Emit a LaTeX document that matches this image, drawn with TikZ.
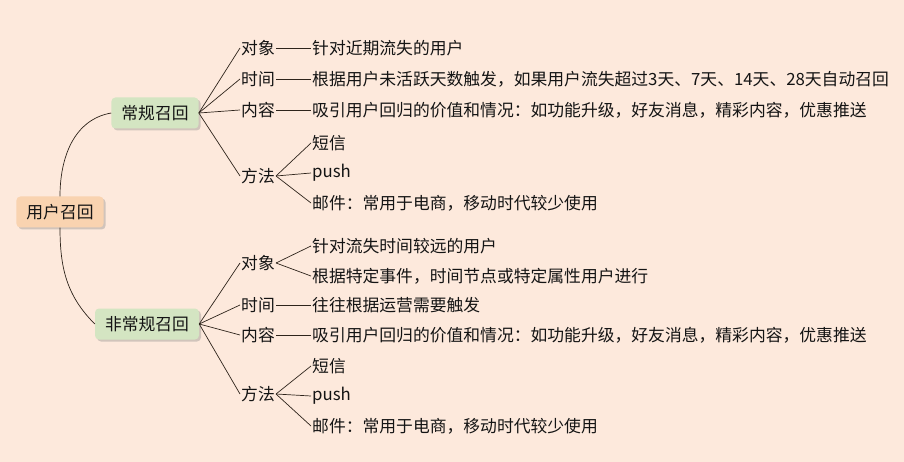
\documentclass[tikz,border=0pt]{standalone}
\usepackage{fontspec}
\setmainfont{Noto Sans CJK SC}
\usetikzlibrary{shadows}
\definecolor{bgpeach}{HTML}{FDE9DC}
\definecolor{rootfill}{HTML}{F9D3B0}
\definecolor{mainfill}{HTML}{D4E5C2}
\definecolor{inkgray}{HTML}{141414}
\tikzset{
  topic/.style={rounded corners=4pt,minimum height=31pt,inner xsep=10pt,
    drop shadow={shadow xshift=2pt,shadow yshift=-2pt,opacity=0.35}},
  rootbox/.style={topic,fill=rootfill},
  mainbox/.style={topic,fill=mainfill},
  leaf/.style={anchor=west,inner sep=1pt},
  link/.style={draw=inkgray!85!brown,line width=0.7pt},
}
\begin{document}
\begin{tikzpicture}[x=1pt,y=-1pt,font=\fontsize{16.8}{20}\selectfont,text=inkgray]
\fill[bgpeach] (0,0) rectangle (904,462);
\useasboundingbox (0,0) rectangle (904,462);

\node[rootbox](root) at (60,212) {用户召回};
\node[mainbox](reg) at (155,113) {常规召回};
\node[mainbox](irr) at (147,324) {非常规召回};

% 常规召回
\node[leaf](r1) at (240,48) {对象};
\node[leaf](r2) at (240,79) {时间};
\node[leaf](r3) at (240,110) {内容};
\node[leaf](r4) at (240,176) {方法};
\node[leaf](r1a) at (311,48) {针对近期流失的用户};
\node[leaf](r2a) at (311,79) {根据用户未活跃天数触发，如果用户流失超过3天、7天、14天、28天自动召回};
\node[leaf](r3a) at (311,110) {吸引用户回归的价值和情况：如功能升级，好友消息，精彩内容，优惠推送};
\node[leaf](r4a) at (311,143) {短信};
\node[leaf](r4b) at (311,173) {push};
\node[leaf](r4c) at (311,203) {邮件：常用于电商，移动时代较少使用};

% 非常规召回
\node[leaf](i1) at (240,263) {对象};
\node[leaf](i2) at (240,305) {时间};
\node[leaf](i3) at (240,335) {内容};
\node[leaf](i4) at (240,394) {方法};
\node[leaf](i1a) at (311,246) {针对流失时间较远的用户};
\node[leaf](i1b) at (311,276) {根据特定事件，时间节点或特定属性用户进行};
\node[leaf](i2a) at (311,305) {往往根据运营需要触发};
\node[leaf](i3a) at (311,335) {吸引用户回归的价值和情况：如功能升级，好友消息，精彩内容，优惠推送};
\node[leaf](i4a) at (311,366) {短信};
\node[leaf](i4b) at (311,396) {push};
\node[leaf](i4c) at (311,426) {邮件：常用于电商，移动时代较少使用};

\draw[link] (root.north) to[out=90,in=190] (reg.west);
\draw[link] (root.south) to[out=-90,in=135] (irr.west);

\draw[link] (reg.east) -- (r1.west);
\draw[link] (reg.east) -- (r2.west);
\draw[link] (reg.east) -- (r3.west);
\draw[link] (reg.east) -- (r4.west);
\draw[link] (r1.east) -- (r1a.west);
\draw[link] (r2.east) -- (r2a.west);
\draw[link] (r3.east) -- (r3a.west);
\draw[link] (r4.east) -- (r4a.west);
\draw[link] (r4.east) -- (r4b.west);
\draw[link] (r4.east) -- (r4c.west);

\draw[link] (irr.east) -- (i1.west);
\draw[link] (irr.east) -- (i2.west);
\draw[link] (irr.east) -- (i3.west);
\draw[link] (irr.east) -- (i4.west);
\draw[link] (i1.east) -- (i1a.west);
\draw[link] (i1.east) -- (i1b.west);
\draw[link] (i2.east) -- (i2a.west);
\draw[link] (i3.east) -- (i3a.west);
\draw[link] (i4.east) -- (i4a.west);
\draw[link] (i4.east) -- (i4b.west);
\draw[link] (i4.east) -- (i4c.west);
\end{tikzpicture}
\end{document}
